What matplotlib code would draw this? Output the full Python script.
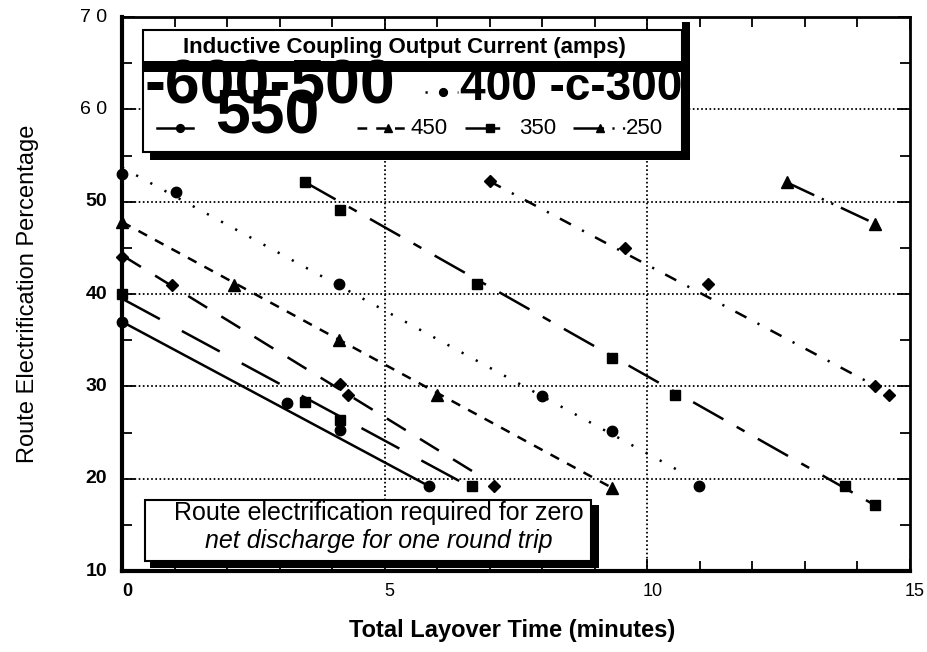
import matplotlib
matplotlib.use("Agg")
import matplotlib.pyplot as plt
from matplotlib.lines import Line2D
from matplotlib.patches import Rectangle

plt.rcParams['font.family'] = ['Liberation Sans', 'DejaVu Sans']
plt.rcParams['lines.scale_dashes'] = False

# ---------------- data ----------------
currents = [600, 550, 500, 450, 400, 350, 300, 250]

x600 = [0.0, 3.15, 4.15, 5.84]
y600 = [37.0, 28.2, 25.3, 19.2]
fit600_x = [0.0, 5.84]
fit600_y = [37.0, 19.2]

x550 = [0.0, 3.49, 4.15, 6.67]
y550 = [40.0, 28.3, 26.3, 19.2]
fit550_x = [0.0, 6.6]
fit550_y = [39.5, 19.2]

x500 = [0.0, 0.95, 4.15, 4.31, 7.09]
y500 = [44.0, 41.0, 30.2, 29.1, 19.2]
fit500_x = [0.0, 6.9]
fit500_y = [44.2, 20.0]

x450 = [0.0, 2.13, 4.14, 5.99, 9.33]
y450 = [47.8, 41.0, 35.0, 29.1, 19.0]
fit450_x = [0.0, 9.33]
fit450_y = [47.8, 19.0]

x400 = [0.0, 1.03, 4.14, 8.0, 9.33, 10.99]
y400 = [53.0, 51.1, 41.1, 29.0, 25.2, 19.2]
fit400_x = [0.0, 10.75]
fit400_y = [53.7, 20.4]

x350 = [3.49, 4.15, 6.75, 9.33, 10.52, 13.76, 14.34]
y350 = [52.1, 49.1, 41.1, 33.05, 29.1, 19.2, 17.1]
fit350_x = [3.49, 14.34]
fit350_y = [52.1, 17.1]

x300 = [7.0, 9.58, 11.16, 14.34, 14.6]
y300 = [52.2, 45.0, 41.1, 30.05, 29.1]
fit300_x = [7.0, 14.34]
fit300_y = [52.2, 30.05]

x250 = [12.65, 14.34]
y250 = [52.1, 47.6]
fit250_x = [12.65, 14.34]
fit250_y = [52.1, 47.6]

x_ticks = [0, 5, 10, 15]
x_tick_labels = ["0", "5", "10", "15"]
y_ticks = [10, 20, 30, 40, 50, 60, 70]
y_tick_labels = ["10", "20", "30", "40", "50", "6 0", "7 0"]

legend_title = "Inductive Coupling Output Current (amps)"
note_line1 = "Route electrification required for zero"
note_line2 = "net discharge for one round trip"

# ---------------- styles ----------------
series = [
    (x600, y600, fit600_x, fit600_y, 'o', '-'),
    (x550, y550, fit550_x, fit550_y, 's', (0, (31, 18))),
    (x500, y500, fit500_x, fit500_y, 'D', (0, (16, 12))),
    (x450, y450, fit450_x, fit450_y, '^', (0, (7, 6.5))),
    (x400, y400, fit400_x, fit400_y, 'o', (0, (1.6, 10))),
    (x350, y350, fit350_x, fit350_y, 's', (0, (25, 11, 6.5, 11))),
    (x300, y300, fit300_x, fit300_y, 'D', (0, (9, 9, 1.6, 9))),
    (x250, y250, fit250_x, fit250_y, '^', (0, (22, 6, 1.6, 6, 1.6, 6))),
]
msize = {'o': 7.5, 's': 7, 'D': 6, '^': 8}

W, H = 928, 652
fig = plt.figure(figsize=(W / 100, H / 100), dpi=100)
L, R, T, B = 122, 910, 17, 571
ax = fig.add_axes([L / W, 1 - B / H, (R - L) / W, (B - T) / H])
ax.set_xlim(0, 15)
ax.set_ylim(10, 70)

for xs, ys, fx_, fy_, mk, ls in series:
    ax.plot(fx_, fy_, color='black', lw=1.8, linestyle=ls, zorder=3)
    ax.plot(xs, ys, linestyle='none', marker=mk, ms=msize[mk], color='black',
            clip_on=False, zorder=4)

# grid
for gx in [5, 10]:
    ax.axvline(gx, color='black', lw=1.3, linestyle=(0, (1.2, 1.8)), zorder=1)
for gy in [20, 30, 40, 50, 60]:
    ax.axhline(gy, color='black', lw=1.3, linestyle=(0, (1.2, 1.8)), zorder=1)

# spines & ticks
ax.spines['left'].set_linewidth(3)
ax.spines['bottom'].set_linewidth(3)
ax.spines['top'].set_linewidth(2)
ax.spines['right'].set_linewidth(2)
ax.set_xticks(x_ticks)
ax.set_xticks(range(0, 16), minor=True)
ax.set_yticks(y_ticks)
ax.set_yticks(range(10, 71, 5), minor=True)
ax.tick_params(which='both', direction='in', top=True, right=True,
               labelbottom=False, labelleft=False, width=1.3)
ax.tick_params(which='major', length=9)
ax.tick_params(which='minor', length=7)

def fx(px):
    return px / W

def fy(py):
    return 1 - py / H

# tick labels
for v, lab in zip(x_ticks, x_tick_labels):
    px = L + (R - L) * v / 15 + 5
    fig.text(fx(px), fy(592), lab, ha='center', va='center', fontsize=13,
             fontweight='bold' if lab == "0" else 'normal')
for v, lab in zip(y_ticks, y_tick_labels):
    py = B - (B - T) * (v - 10) / 60
    fig.text(fx(107), fy(py), lab, ha='right', va='center', fontsize=14,
             fontweight='normal' if ' ' in lab else 'bold')

fig.text(fx(512), fy(630), "Total Layover Time (minutes)", ha='center', va='center',
         fontsize=17, fontweight='bold')
fig.text(fx(28), fy(294), "Route Electrification Percentage", ha='center', va='center',
         rotation=90, fontsize=17)

def rect(x0, y0, x1, y1, fc, ec='none', lw=0, z=6):
    r = Rectangle((fx(x0), fy(y1)), fx(x1) - fx(x0), fy(y0) - fy(y1),
                  transform=fig.transFigure, facecolor=fc, edgecolor=ec,
                  linewidth=lw, zorder=z)
    fig.add_artist(r)

# ---------------- legend box ----------------
rect(143, 30, 682, 152, 'white', 'black', 1.5)
rect(682, 22, 690, 160, 'black')
rect(150, 152, 690, 160, 'black')
rect(143, 61, 689, 72, 'black', z=6.5)
fig.text(fx(404), fy(47), legend_title, ha='center', va='center', fontsize=16,
         fontweight='bold', zorder=7)

def sample(x0, x1, xm, y, mk, ls):
    fig.add_artist(Line2D([fx(x0), fx(x1)], [fy(y), fy(y)], transform=fig.transFigure,
                          color='black', lw=1.8, linestyle=ls, zorder=7))
    fig.add_artist(Line2D([fx(xm)], [fy(y)], transform=fig.transFigure, color='black',
                          marker=mk, ms=msize[mk] * 0.75, linestyle='none', zorder=7))

# row 2 small entries
sample(157, 193, 180, 128, 'o', '-')
sample(357, 407, 388, 128, series[3][4], series[3][5])
sample(465, 515, 490, 128, series[5][4], series[5][5])
sample(573, 625, 600, 128, series[7][4], series[7][5])
# row 1 visible entry
sample(425, 458, 443, 92, series[4][4], series[4][5])

for px, lab in [(411, "450"), (519, "350"), (626, "250")]:
    fig.text(fx(px), fy(129), lab, ha='left', va='center', fontsize=16, zorder=7)

# the large overprinted labels
fig.text(fx(145), fy(103), "-600-500", ha='left', va='baseline', fontsize=45,
         fontweight='bold', zorder=8)
fig.text(fx(215), fy(134), "550", ha='left', va='baseline', fontsize=45,
         fontweight='bold', zorder=8)
fig.text(fx(460), fy(100), "400 -c-300", ha='left', va='baseline', fontsize=33,
         fontweight='bold', zorder=8)

# ---------------- note box ----------------
rect(145, 500, 591, 561, 'white', 'black', 1.5)
rect(591, 505, 599, 568, 'black')
rect(150, 560, 599, 568, 'black')
fig.text(fx(379), fy(513), note_line1, ha='center', va='center', fontsize=18, zorder=7)
fig.text(fx(379), fy(541), note_line2, ha='center', va='center', fontsize=18,
         style='italic', zorder=7)

fig.savefig("out.png", dpi=100)
